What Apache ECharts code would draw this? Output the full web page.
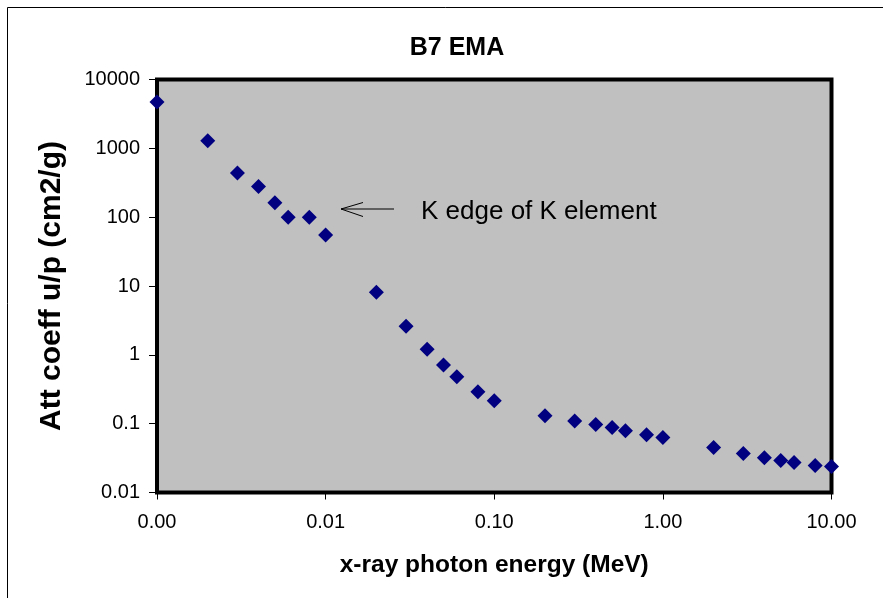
<!DOCTYPE html>
<html>
<head>
<meta charset="utf-8">
<script src="https://cdn.jsdelivr.net/npm/echarts@6/dist/echarts.min.js"></script>
<style>
html,body{margin:0;padding:0;background:#fff;}
#chart{width:883px;height:598px;}
</style>
</head>
<body>
<div id="chart"></div>
<script>
var energyMeV = [0.001,0.002,0.003,0.004,0.005,0.006,0.008,0.01,0.02,0.03,0.04,0.05,0.06,0.08,0.1,0.2,0.3,0.4,0.5,0.6,0.8,1,2,3,4,5,6,8,10];
var attCoeff = [4700,1290,438,278,162,100,100,55,8.1,2.6,1.21,0.71,0.48,0.29,0.215,0.13,0.109,0.097,0.088,0.079,0.069,0.063,0.045,0.037,0.032,0.0292,0.0273,0.0247,0.0239];
var xTickLabels = ['0.00','0.01','0.10','1.00','10.00'];
var yTickLabels = ['0.01','0.1','1','10','100','1000','10000'];
var titleText = 'B7 EMA';
var xTitle = 'x-ray photon energy (MeV)';
var yTitle = 'Att coeff u/p (cm2/g)';
var noteText = 'K edge of K element';

var FONT = 'Arial, "Liberation Sans", sans-serif';
var pts = energyMeV.map(function(x,i){return [x, attCoeff[i]];});

var chart = echarts.init(document.getElementById('chart'), null, {renderer:'canvas'});
chart.setOption({
  animation:false,
  backgroundColor:'#ffffff',
  title:{
    text:titleText, left:452, top:31, textAlign:'center',
    textStyle:{fontFamily:FONT, fontWeight:'bold', fontSize:25, color:'#000'}
  },
  grid:{
    left:157, right:51.5, top:79.5, bottom:105.5,
    show:true, backgroundColor:'#c0c0c0', borderColor:'#000', borderWidth:4
  },
  xAxis:{
    type:'log', logBase:10, min:0.001, max:10,
    name:xTitle, nameLocation:'middle', nameGap:60,
    nameTextStyle:{fontFamily:FONT, fontWeight:'bold', fontSize:24.5, color:'#000'},
    axisLine:{show:false},
    axisTick:{show:true, length:7, lineStyle:{color:'#000', width:1}},
    splitLine:{show:false},
    axisLabel:{
      margin:20, fontFamily:FONT, fontSize:20, color:'#000',
      formatter:function(v){var k=Math.round(Math.log10(v))+3; return xTickLabels[k]!==undefined?xTickLabels[k]:'';}
    }
  },
  yAxis:{
    type:'log', logBase:10, min:0.01, max:10000,
    name:yTitle, nameLocation:'middle', nameGap:90,
    nameTextStyle:{fontFamily:FONT, fontWeight:'bold', fontSize:30, color:'#000'},
    axisLine:{show:false},
    axisTick:{show:true, length:8, lineStyle:{color:'#000', width:1}},
    splitLine:{show:false},
    axisLabel:{
      margin:17, fontFamily:FONT, fontSize:20, color:'#000',
      formatter:function(v){var k=Math.round(Math.log10(v))+2; return yTickLabels[k]!==undefined?yTickLabels[k]:'';}
    }
  },
  series:[{
    type:'scatter', data:pts, symbol:'diamond', symbolSize:15,
    itemStyle:{color:'#000080', opacity:1}
  }],
  graphic:[
    {type:'rect', shape:{x:7.5,y:7.5,width:1000,height:1000}, style:{fill:null, stroke:'#000', lineWidth:1}, silent:true},
    {type:'line', shape:{x1:341,y1:209,x2:394,y2:209}, style:{stroke:'#000', lineWidth:1}},
    {type:'polyline', shape:{points:[[363,202.5],[341,209],[363,216.5]]}, style:{stroke:'#000', lineWidth:1, fill:null}},
    {type:'text', x:421, y:212, style:{text:noteText, fontFamily:FONT, fontSize:26, fill:'#000', textAlign:'left', textVerticalAlign:'middle'}}
  ]
});
</script>
</body>
</html>
